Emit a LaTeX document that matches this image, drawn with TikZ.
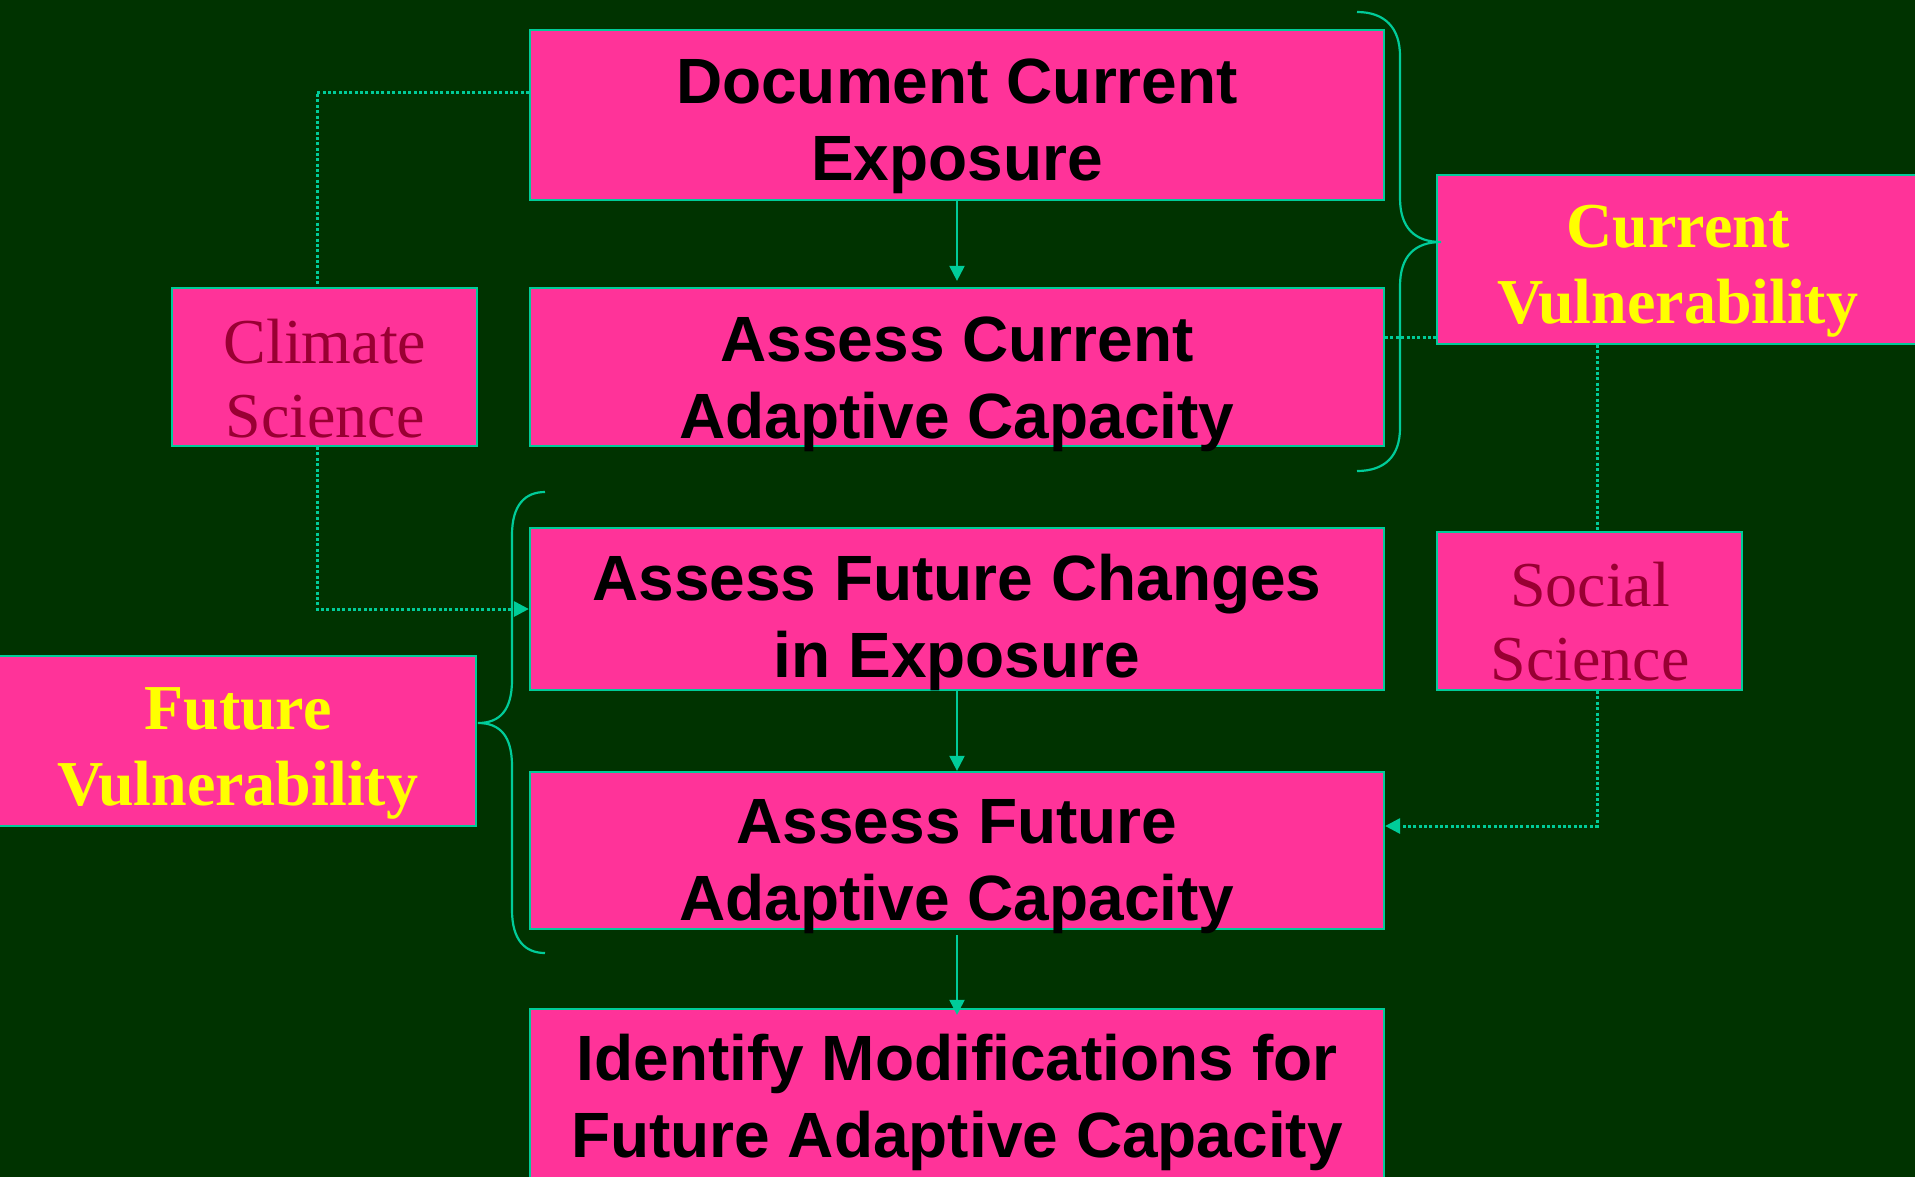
\documentclass[tikz,border=0pt]{standalone}
\usepackage{fontspec}
\setmainfont{Liberation Serif}
\newfontfamily\arialf{Liberation Sans}
\usetikzlibrary{arrows.meta,calc}
\definecolor{bg}{HTML}{003300}
\definecolor{pinkb}{HTML}{FF3399}
\definecolor{tealc}{HTML}{00CC99}
\definecolor{yel}{HTML}{FFFF00}
\definecolor{dred}{HTML}{990033}
\begin{document}
\begin{tikzpicture}[x=1pt,y=-1pt,
 box/.style={draw=tealc,fill=pinkb,line width=2.2pt,inner sep=0pt},
 maintxt/.style={font=\arialf\bfseries\fontsize{64}{77}\selectfont,align=center,inner sep=0pt,text=black},
 vulntxt/.style={font=\bfseries\fontsize{64}{76}\selectfont,align=center,inner sep=0pt,text=yel},
 scitxt/.style={font=\fontsize{64}{74}\selectfont,align=center,inner sep=0pt,text=dred},
 arr/.style={draw=tealc,line width=2pt,-{Triangle[length=15pt,width=15pt]}},
 dotl/.style={draw=tealc,line width=3pt,dash pattern=on 3pt off 2.35pt},
 dotarr/.style={dotl,-{Triangle[length=15pt,width=15pt]}},
 bracel/.style={draw=tealc,line width=2.2pt}]
\useasboundingbox (0,0) rectangle (1915,1176);
\fill[bg] (-10,-10) rectangle (1925,1186);
% boxes
\node[box,minimum width=854pt,minimum height=170pt] (doc) at (957,115) {};
\node[box,minimum width=854pt,minimum height=158pt] (assesscur) at (957,367) {};
\node[box,minimum width=854pt,minimum height=162pt] (futch) at (957,609) {};
\node[box,minimum width=854pt,minimum height=157pt] (futad) at (957,850.5) {};
\node[box,minimum width=854pt,minimum height=191pt] (ident) at (957,1104.5) {};
\node[box,minimum width=305pt,minimum height=158pt] (climate) at (324.5,367) {};
\node[box,minimum width=305pt,minimum height=158pt] (social) at (1589.5,611) {};
\node[box,minimum width=496pt,minimum height=170pt] (futvuln) at (228,741) {};
\node[box,minimum width=498pt,minimum height=169pt] (curvuln) at (1686,259.5) {};
% texts
\node[maintxt] (doct) at (957,126.75) {Document Current\\Exposure};
\node[maintxt] (assesscurt) at (957,384.75) {Assess Current\\Adaptive Capacity};
\node[maintxt] (futcht) at (957,622.75) {Assess Future Changes\\in Exposure};
\node[maintxt] (futadt) at (957,866.75) {Assess Future\\Adaptive Capacity};
\node[maintxt] (identt) at (957,1102.25) {Identify Modifications for\\Future Adaptive Capacity};
\node[scitxt] (climatet) at (325,378.5) {Climate\\Science};
\node[scitxt] (socialt) at (1590,622) {Social\\Science};
\node[vulntxt] (curvulnt) at (1678,271.5) {Current\\Vulnerability};
\node[vulntxt] (futvulnt) at (238,753) {Future\\Vulnerability};
% solid arrows
\draw[arr,shorten >=6pt] (doc.south) -- (assesscur.north);
\draw[arr] (futch.south) -- (futad.north);
\draw[arr,shorten <=5pt,shorten >=-7pt] (futad.south) -- (ident.north);
% dotted connectors
\coordinate (c1) at (317,92);
\coordinate (c2) at (1597,826);
\draw[dotl] (doc.west |- c1) -- (c1) -- (c1 |- climate.north);
\draw[dotarr] (c1 |- climate.south) |- (futch.west);
\draw[dotl] ([yshift=8pt]assesscur.east |- curvuln.south) -- ([yshift=8pt]curvuln.south west);
\draw[dotl] (c2 |- curvuln.south) -- (c2 |- social.north);
\draw[dotarr] (c2 |- social.south) -- (c2) -- (futad.east |- c2);
% braces
\draw[bracel] (1357,12) .. controls (1385,12) and (1400,28) .. (1400,56) -- (1400,198)
  .. controls (1400,228) and (1415,242) .. (1441,242)
  .. controls (1415,242) and (1400,256) .. (1400,286) -- (1400,428)
  .. controls (1400,456) and (1385,471) .. (1357,471);
\draw[bracel] (545,492) .. controls (525,492) and (512,505) .. (512,535) -- (512,680)
  .. controls (512,710) and (500,723) .. (478,723)
  .. controls (500,723) and (512,736) .. (512,766) -- (512,910)
  .. controls (512,940) and (525,953) .. (545,953);
\end{tikzpicture}
\end{document}
